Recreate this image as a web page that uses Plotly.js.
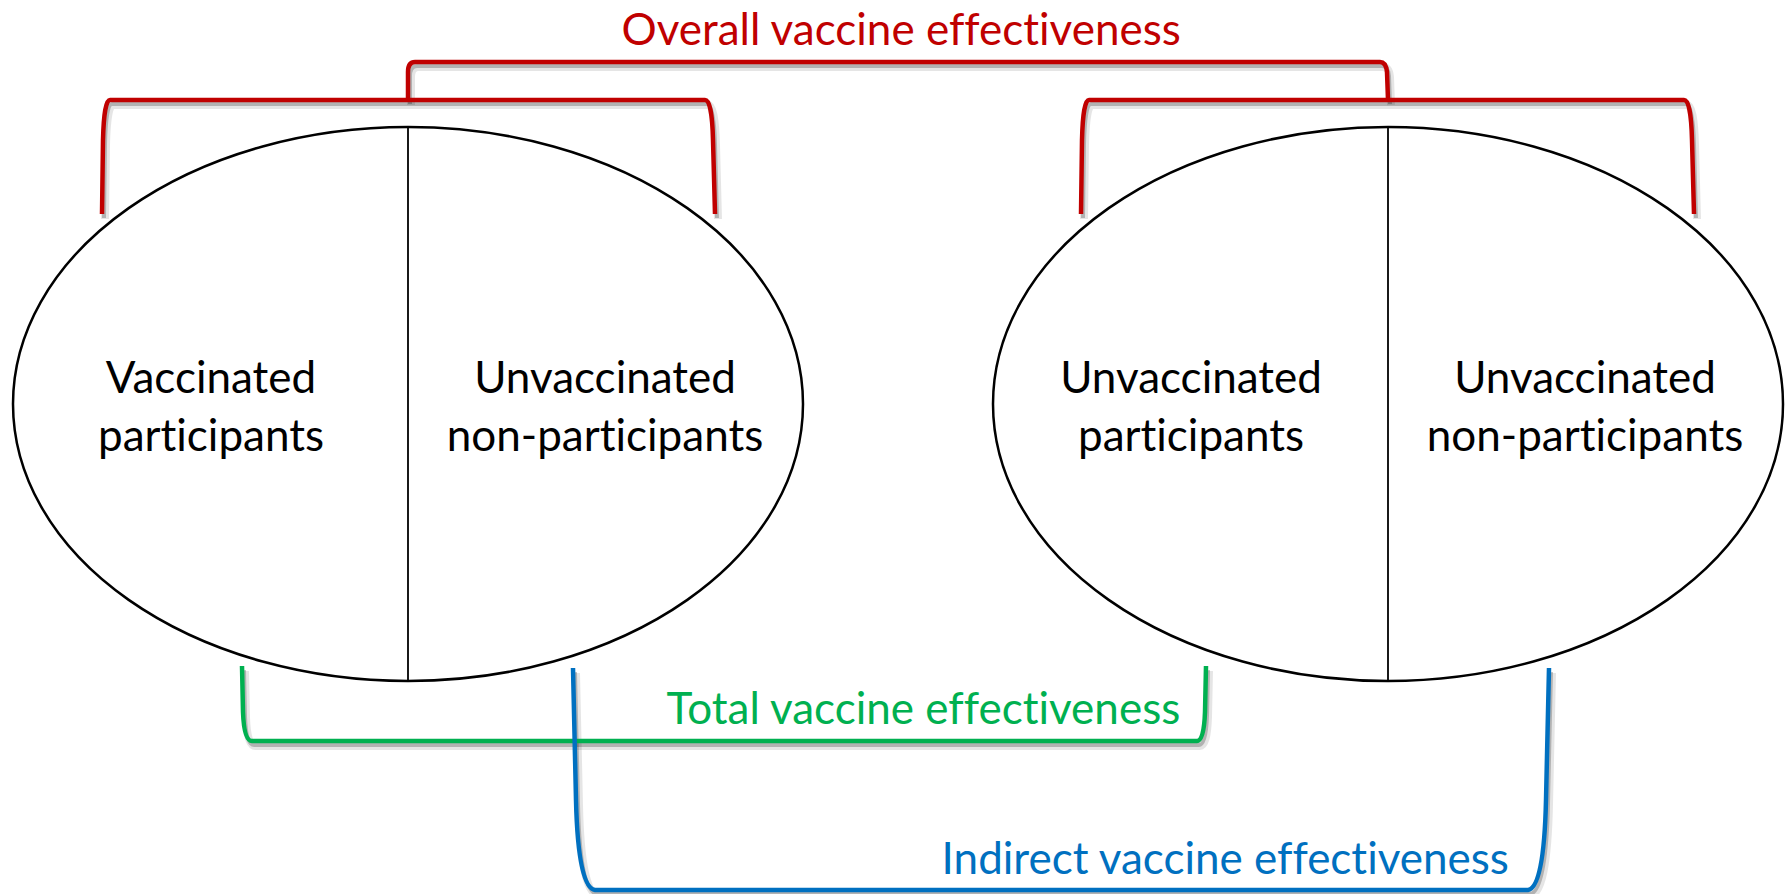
<!DOCTYPE html>
<html>
<head>
<meta charset="utf-8">
<script src="https://cdn.plot.ly/plotly-3.0.1.min.js"></script>
<style>html,body{margin:0;padding:0;background:#fff;}#chart{width:1791px;height:894px;}
#chart text{font-variant-ligatures:none;font-feature-settings:"liga" 0;}</style>
</head>
<body>
<div id="chart"></div>
<script>
// ---- diagram data ----
const groupNames = ["Vaccinated population", "Unvaccinated population"];
const groupCenterX = [408, 1388];
const groupCenterY = [404, 404];
const groupRadiusX = [395, 395];
const groupRadiusY = [277, 277];

const cellLabels = ["Vaccinated<br>participants", "Unvaccinated<br>non-participants",
                    "Unvaccinated<br>participants", "Unvaccinated<br>non-participants"];
const cellX = [211, 605, 1191, 1585];
const cellY = [411, 411, 411, 411];

const effectNames = ["Overall vaccine effectiveness", "Total vaccine effectiveness", "Indirect vaccine effectiveness"];
const effectColors = ["#C00000", "#00B050", "#0070C0"];
const effectLabelX = [901, 1182, 1511];
const effectLabelY = [28, 707, 857];
const effectLabelAnchor = ["center", "right", "right"];

// bracket geometry (data units)
const redLeftBracket  = [[102,214],[103,140],[104,100],[110,100],[705,100],[712,100],[713,140],[715,214]];
const redRightBracket = [[1081,214],[1082,140],[1083,100],[1089,100],[1684,100],[1691,100],[1692,140],[1694,214]];
const redStem         = [[408,100],[408,72],[408,62],[415,62],[1380,62],[1386,62],[1387,72],[1388,100]];
const greenBracket    = [[242,666],[243,712],[244,741],[252,741],[1197,741],[1204,741],[1205,712],[1206,666]];
const blueBracket     = [[573,668],[576,800],[578,888],[595,890],[1528,890],[1544,888],[1546,800],[1549,668]];

function bracketPath(p, dx, dy) {
  const f = q => (q[0] + dx) + "," + (q[1] + dy);
  return "M" + f(p[0]) + " L" + f(p[1]) + " Q" + f(p[2]) + " " + f(p[3]) +
         " L" + f(p[4]) + " Q" + f(p[5]) + " " + f(p[6]) + " L" + f(p[7]);
}

const brackets = [
  {pts: redLeftBracket, color: effectColors[0]},
  {pts: redRightBracket, color: effectColors[0]},
  {pts: redStem, color: effectColors[0]},
  {pts: greenBracket, color: effectColors[1]},
  {pts: blueBracket, color: effectColors[2]}
];

const shapes = [];
// shadows
brackets.forEach(b => {
  shapes.push({type: "path", xref: "x", yref: "y", path: bracketPath(b.pts, 3, 5),
    line: {color: "rgba(0,0,0,0.10)", width: 8}});
  shapes.push({type: "path", xref: "x", yref: "y", path: bracketPath(b.pts, 2, 4),
    line: {color: "rgba(0,0,0,0.22)", width: 4}});
});
// ellipses and dividers
groupCenterX.forEach((cx, i) => {
  shapes.push({type: "circle", xref: "x", yref: "y",
    x0: cx - groupRadiusX[i], x1: cx + groupRadiusX[i],
    y0: groupCenterY[i] - groupRadiusY[i], y1: groupCenterY[i] + groupRadiusY[i],
    line: {color: "#000", width: 2.5}, fillcolor: "rgba(0,0,0,0)"});
  shapes.push({type: "line", xref: "x", yref: "y",
    x0: cx, x1: cx, y0: groupCenterY[i] - groupRadiusY[i], y1: groupCenterY[i] + groupRadiusY[i],
    line: {color: "#000", width: 1.8}});
});
// brackets
brackets.forEach(b => {
  shapes.push({type: "path", xref: "x", yref: "y", path: bracketPath(b.pts, 0, 0),
    line: {color: b.color, width: 4.5}});
});

const FONT = "Lato, 'Open Sans', sans-serif";
const annotations = effectNames.map((t, i) => ({
  x: effectLabelX[i], y: effectLabelY[i], xref: "x", yref: "y",
  text: t, showarrow: false, xanchor: effectLabelAnchor[i], yanchor: "middle",
  font: {family: FONT, size: 44, color: effectColors[i]}
}));

const traces = [{
  type: "scatter", mode: "text", x: cellX, y: cellY, text: cellLabels,
  textposition: "middle center", hoverinfo: "skip", showlegend: false,
  textfont: {family: FONT, size: 44, color: "#000"}
}];

const layout = {
  width: 1791, height: 894,
  margin: {l: 0, r: 0, t: 0, b: 0},
  paper_bgcolor: "#fff", plot_bgcolor: "#fff",
  xaxis: {range: [0, 1791], visible: false, fixedrange: true},
  yaxis: {range: [894, 0], visible: false, fixedrange: true},
  shapes: shapes, annotations: annotations, showlegend: false
};

Plotly.newPlot("chart", traces, layout, {staticPlot: true, displayModeBar: false});
</script>
</body>
</html>
